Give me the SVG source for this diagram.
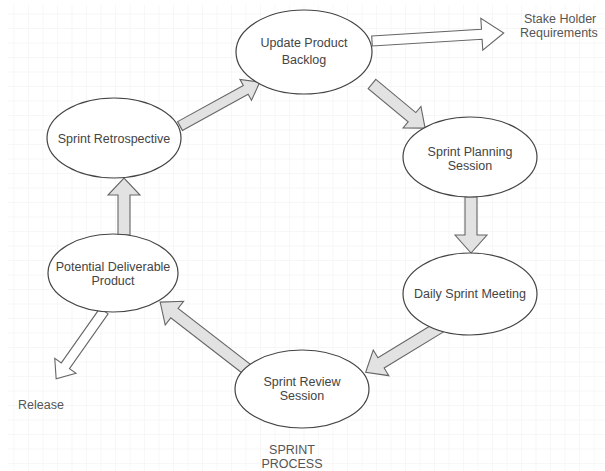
<svg xmlns="http://www.w3.org/2000/svg" width="605" height="471" viewBox="0 0 605 471">
<style>
.node ellipse{fill:#fff;stroke:#444;stroke-width:1.2}
.t{font-family:"Liberation Sans",Arial,sans-serif;font-size:12.5px;fill:#444;text-anchor:middle}
.lbl{font-family:"Liberation Sans",Arial,sans-serif;font-size:12.5px;fill:#555}
.ga{fill:#e2e2e2;stroke:#666;stroke-width:1.1;stroke-linejoin:miter}
.wa{fill:#fff;stroke:#666;stroke-width:1.1}
</style>
<defs>
<pattern id="grid" width="14.5" height="14.5" patternUnits="userSpaceOnUse">
<path d="M14.5 0V14.5M0 14.5H14.5" fill="none" stroke="#f0f0f0" stroke-width="1"/>
</pattern>
</defs>
<rect width="605" height="471" fill="#fff"/>
<rect x="8" y="5" width="597" height="466" fill="url(#grid)"/>
<g id="connectors">
<polygon class="ga" points="0,-5 75,-5 75,-12 91,0 75,12 75,5 0,5" transform="translate(180,126) rotate(-28.8)"/>
<polygon class="ga" points="0,-6 52,-6 52,-14 69,0 52,14 52,6 0,6" transform="translate(372,84) rotate(39.7)"/>
<polygon class="ga" points="0,-6 38,-6 38,-16 56,0 38,16 38,6 0,6" transform="translate(471,197) rotate(90)"/>
<polygon class="ga" points="0,-6 69,-6 69,-15 87,0 69,15 69,6 0,6" transform="translate(440,327) rotate(148.7)"/>
<polygon class="ga" points="0,-6 93,-6 93,-15 111,0 93,15 93,6 0,6" transform="translate(248,370) rotate(-142.3)"/>
<polygon class="ga" points="0,-6 40,-6 40,-16 57,0 40,16 40,6 0,6" transform="translate(124,235) rotate(-90)"/>
<polygon class="wa" points="0,-5 67,-5 67,-13 83,0 67,13 67,5 0,5" transform="translate(104,311) rotate(125.2)"/>
<polygon class="wa" points="0,-5 110,-5 110,-16 132,0 110,16 110,5 0,5" transform="translate(372,41) rotate(-3.5)"/>
</g>
<g id="update" class="node"><ellipse cx="304" cy="52" rx="68" ry="42"/><text class="t" x="304" y="47">Update Product</text><text class="t" x="304" y="64">Backlog</text></g>
<g id="planning" class="node"><ellipse cx="470" cy="157" rx="67" ry="40"/><text class="t" x="470" y="156">Sprint Planning</text><text class="t" x="470" y="170">Session</text></g>
<g id="daily" class="node"><ellipse cx="470" cy="294" rx="67" ry="41"/><text class="t" x="470" y="298">Daily Sprint Meeting</text></g>
<g id="review" class="node"><ellipse cx="302" cy="389" rx="67" ry="39"/><text class="t" x="302" y="386">Sprint Review</text><text class="t" x="302" y="400">Session</text></g>
<g id="potential" class="node"><ellipse cx="113" cy="273" rx="65" ry="39"/><text class="t" x="113" y="271">Potential Deliverable</text><text class="t" x="113" y="285">Product</text></g>
<g id="retro" class="node"><ellipse cx="114" cy="138" rx="67" ry="40"/><text class="t" x="114" y="143">Sprint Retrospective</text></g>
<text class="lbl" x="524" y="23">Stake Holder</text>
<text class="lbl" x="520" y="37">Requirements</text>
<text class="lbl" x="18" y="409">Release</text>
<text class="t" x="292" y="454" style="fill:#555">SPRINT</text>
<text class="t" x="292" y="468" style="fill:#555">PROCESS</text>
</svg>
